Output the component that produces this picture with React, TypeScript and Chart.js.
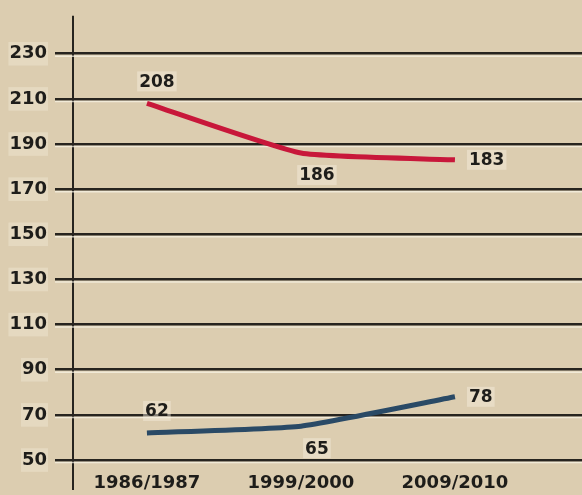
import React, { useEffect, useRef } from "react";
import { Chart, registerables } from "chart.js";

Chart.register(...registerables);

const categories = ["1986/1987", "1999/2000", "2009/2010"];
const redValues = [208, 186, 183];
const blueValues = [62, 65, 78];
const yTicks = [50, 70, 90, 110, 130, 150, 170, 190, 210, 230];
const redLabelPlacement = ["above", "below", "right"];
const blueLabelPlacement = ["above", "below", "right"];

const BG = "#dccdb0";
const INK = "#1e1d1a";
const GRID = "#27241f";
const FONT = "'DejaVu Sans', sans-serif";

const bgPlugin = {
  id: "bg",
  beforeDraw(chart: any) {
    const { ctx, width, height } = chart;
    ctx.save();
    ctx.fillStyle = BG;
    ctx.fillRect(0, 0, width, height);
    ctx.restore();
  },
};

const gridHighlight = {
  id: "gridHighlight",
  beforeDatasetsDraw(chart: any) {
    const { ctx, chartArea } = chart;
    const y = chart.scales.y;
    ctx.save();
    ctx.strokeStyle = "rgba(250,246,232,0.7)";
    ctx.lineWidth = 1.5;
    yTicks.forEach((v) => {
      const py = y.getPixelForValue(v) + 2.5;
      ctx.beginPath();
      ctx.moveTo(chartArea.left - 18, py);
      ctx.lineTo(chartArea.right, py);
      ctx.stroke();
    });
    // extend the vertical axis above and below the plot area
    ctx.strokeStyle = GRID;
    ctx.lineWidth = 2;
    ctx.beginPath();
    ctx.moveTo(chartArea.left, chartArea.top - 3);
    ctx.lineTo(chartArea.left, chartArea.top);
    ctx.moveTo(chartArea.left, chartArea.bottom);
    ctx.lineTo(chartArea.left, chartArea.bottom + 20);
    ctx.stroke();
    ctx.restore();
  },
};

const dataLabels = {
  id: "dataLabels",
  afterDatasetsDraw(chart: any) {
    const { ctx } = chart;
    ctx.save();
    ctx.font = `bold 17px ${FONT}`;
    ctx.textBaseline = "middle";
    chart.data.datasets.forEach((ds: any, i: number) => {
      const meta = chart.getDatasetMeta(i);
      const placement = i === 0 ? redLabelPlacement : blueLabelPlacement;
      meta.data.forEach((pt: any, j: number) => {
        const text = String(ds.data[j].y);
        const w = ctx.measureText(text).width;
        let cx = pt.x;
        let cy = pt.y;
        if (placement[j] === "above") {
          cx += 10;
          cy -= 22;
        } else if (placement[j] === "below") {
          cx += 16;
          cy += 22;
        } else {
          cx += 14 + w / 2;
        }
        ctx.fillStyle = "rgba(246,240,224,0.45)";
        ctx.fillRect(cx - w / 2 - 2, cy - 10, w + 4, 20);
        ctx.fillStyle = INK;
        ctx.textAlign = "center";
        ctx.fillText(text, cx, cy + 1);
      });
    });
    ctx.restore();
  },
};

export default function App() {
  const ref = useRef<HTMLCanvasElement | null>(null);

  useEffect(() => {
    document.body.style.margin = "0";
    document.body.style.background = BG;
    const canvas = ref.current;
    if (!canvas) return;
    const chart = new Chart(canvas, {
      type: "line",
      data: {
        datasets: [
          {
            data: redValues.map((v, i) => ({ x: i, y: v })),
            borderColor: "#c8173a",
            borderWidth: 5,
            pointRadius: 0,
            tension: 0.15,
            borderCapStyle: "butt",
          },
          {
            data: blueValues.map((v, i) => ({ x: i, y: v })),
            borderColor: "#2a4a66",
            borderWidth: 5,
            pointRadius: 0,
            tension: 0.15,
            borderCapStyle: "butt",
          },
        ],
      },
      options: {
        animation: false,
        responsive: true,
        maintainAspectRatio: false,
        layout: { padding: { top: 12, left: 0, right: 0, bottom: 0 } },
        plugins: { legend: { display: false }, tooltip: { enabled: false } },
        scales: {
          x: {
            type: "linear",
            min: -0.48,
            max: 2.825,
            afterBuildTicks(scale: any) {
              scale.ticks = categories.map((_, i) => ({ value: i }));
            },
            afterFit(scale: any) {
              scale.height = 25;
            },
            grid: { display: false, drawTicks: false },
            border: { display: false },
            ticks: {
              padding: 3,
              color: INK,
              font: { family: FONT, size: 18, weight: "bold" },
              maxRotation: 0,
              autoSkip: false,
              callback: (v: any) => categories[Math.round(Number(v))] ?? "",
            },
          },
          y: {
            min: 45.58,
            max: 245.48,
            afterBuildTicks(scale: any) {
              scale.ticks = yTicks.map((v) => ({ value: v }));
            },
            afterFit(scale: any) {
              scale.width = 73;
            },
            grid: {
              color: GRID,
              lineWidth: 2.5,
              drawTicks: true,
              tickLength: 18,
            },
            border: { display: true, color: GRID, width: 2 },
            ticks: {
              padding: 8,
              color: INK,
              font: { family: FONT, size: 18, weight: "bold" },
              showLabelBackdrop: true,
              backdropColor: "rgba(246,240,224,0.35)",
              backdropPadding: 1,
            },
          },
        },
      },
      plugins: [bgPlugin, gridHighlight, dataLabels],
    } as any);
    return () => chart.destroy();
  }, []);

  return (
    <div style={{ width: 582, height: 495, position: "relative" }}>
      <canvas ref={ref} />
    </div>
  );
}
